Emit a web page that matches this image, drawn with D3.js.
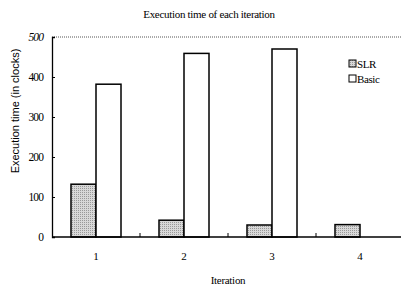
<!DOCTYPE html>
<html><head><meta charset="utf-8">
<script src="https://cdn.jsdelivr.net/npm/d3@7"></script>
<style>body{margin:0;background:#fff}svg{display:block}</style>
</head><body>
<svg id="c" width="401" height="289"></svg>
<script>
const categories = ["1","2","3","4"];
const seriesNames = ["SLR","Basic"];
const slrValues = [132, 42, 30, 31];
const basicValues = [382, 459, 470, 0];
const yTicks = [0,100,200,300,400,500];
const fills = {SLR:"#c6c6c6", Basic:"#ffffff"};

const svg = d3.select("#c");
const defs = svg.append("defs");
const pat = defs.append("pattern").attr("id","dots").attr("width",2).attr("height",2).attr("patternUnits","userSpaceOnUse");
pat.append("rect").attr("width",2).attr("height",2).attr("fill","#d8d8d8");
pat.append("rect").attr("width",1).attr("height",1).attr("fill","#999");

const L=52, R=404, T=37, B=237;
const x = d3.scaleBand().domain(categories).range([L,R]);
const xs = d3.scaleBand().domain(seriesNames).range([0,50]);
const y = d3.scaleLinear().domain([0,500]).range([B,T]);

const serif = "'Liberation Serif','Times New Roman',serif";

svg.append("text").attr("x",209).attr("y",18).attr("text-anchor","middle")
  .attr("font-family",serif).attr("font-size",11).attr("letter-spacing",-0.3).text("Execution time of each iteration");

svg.append("line").attr("x1",L).attr("x2",401).attr("y1",y(500)).attr("y2",y(500))
  .attr("stroke","#555").attr("stroke-width",1).attr("stroke-dasharray","1,1");

const data = categories.map((c,i)=>({c, vals:[{s:"SLR",v:slrValues[i]},{s:"Basic",v:basicValues[i]}]}));
const g = svg.append("g");
data.forEach(d=>{
  d.vals.forEach(e=>{
    g.append("rect")
      .attr("x", x(d.c)+x.bandwidth()/2-25+xs(e.s))
      .attr("y", y(e.v))
      .attr("width", xs.bandwidth())
      .attr("height", B-y(e.v))
      .attr("fill", e.s==="SLR"?"url(#dots)":fills[e.s])
      .attr("stroke","#000").attr("stroke-width",1.5);
  });
});

const ya = d3.axisLeft(y).tickValues(yTicks).tickSize(-3).tickPadding(9);
const yg = svg.append("g").attr("transform",`translate(${L},0)`).call(ya);
yg.select(".domain").attr("stroke","#000").attr("stroke-width",1.3);
yg.selectAll(".tick line").attr("stroke","#000");
yg.selectAll("text").attr("font-family",serif).attr("font-size",11.5).attr("letter-spacing",-0.9).attr("fill","#000").attr("font-style",d=>d===500?"italic":null);

svg.append("line").attr("x1",L).attr("x2",401).attr("y1",B).attr("y2",B).attr("stroke","#000").attr("stroke-width",1.3);
categories.slice(1).forEach(c=>{
  svg.append("line").attr("x1",x(c)).attr("x2",x(c)).attr("y1",B).attr("y2",B-4).attr("stroke","#000");
});
categories.forEach(c=>{
  svg.append("text").attr("x",x(c)+x.bandwidth()/2).attr("y",260).attr("text-anchor","middle")
    .attr("font-family",serif).attr("font-size",11).text(c);
});

svg.append("text").attr("x",228).attr("y",284).attr("text-anchor","middle")
  .attr("font-family",serif).attr("font-size",11).attr("letter-spacing",-0.3).text("Iteration");
svg.append("text").attr("transform","translate(19,111) rotate(-90)").attr("text-anchor","middle")
  .attr("font-family","'Liberation Sans',Arial,sans-serif").attr("font-size",11).text("Execution time (in clocks)");

seriesNames.forEach((s,i)=>{
  const ly = 64 + i*15;
  svg.append("rect").attr("x",349).attr("y",ly-4).attr("width",7).attr("height",7)
    .attr("fill", s==="SLR"?"url(#dots)":fills[s]).attr("stroke","#000").attr("stroke-width",1);
  svg.append("text").attr("x",357).attr("y",ly+3.5).attr("font-family",serif).attr("font-size",11)
    .attr("letter-spacing",-0.4).text(s);
});
</script>
</body></html>
